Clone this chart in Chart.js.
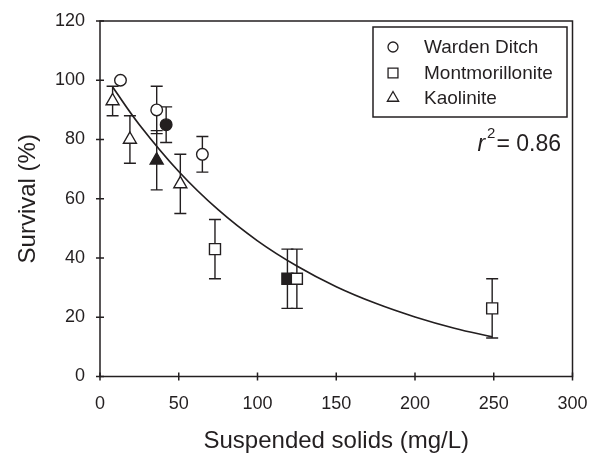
<!DOCTYPE html>
<html>
<head>
<meta charset="utf-8">
<script src="https://cdn.jsdelivr.net/npm/chart.js@4.4.1/dist/chart.umd.min.js"></script>
<style>
  html, body { margin: 0; padding: 0; background: #fff; }
</style>
</head>
<body>
<canvas id="chart" width="597" height="456"></canvas>
<script>
// curva ajustada
const curveX = [8, 25, 50, 75, 100, 125, 150, 175, 200, 225, 249];
const curveY = [97.7, 85, 69.2, 56.3, 45.8, 37.3, 30.3, 24.7, 20.1, 16.3, 13.4];

// Warden Ditch
const wardenX = [13, 36, 65];
const wardenY = [100, 90, 75];
const wardenErr = [0, 8, 6];
const wardenFillX = [42];
const wardenFillY = [85];
const wardenFillErr = [6];

// Montmorillonite
const montX = [73, 125, 249];
const montY = [43, 33, 23];
const montErr = [10, 10, 10];
const montFillX = [119];
const montFillY = [33];
const montFillErr = [10];

// Kaolinite
const kaolX = [8, 19, 51];
const kaolY = [93, 80, 65];
const kaolErr = [5, 8, 10];
const kaolFillX = [36];
const kaolFillY = [73];
const kaolFillErr = [10];

const xTicks = [0, 50, 100, 150, 200, 250, 300];
const yTicks = [0, 20, 40, 60, 80, 100, 120];
const legendLabels = ["Warden Ditch", "Montmorillonite", "Kaolinite"];
const rSquared = "0.86";

const INK = "#231f20";
const FONT = "'Liberation Sans', Arial, Helvetica, sans-serif";

const toPoints = (xs, ys) => xs.map((x, i) => ({ x, y: ys[i] }));

const markerSet = (label, xs, ys, errs, style, radius, filled) => ({
  type: "scatter",
  label,
  data: toPoints(xs, ys),
  errors: errs,
  pointStyle: style,
  pointRadius: radius,
  pointHoverRadius: radius,
  pointBorderWidth: 1.4,
  pointBorderColor: INK,
  pointBackgroundColor: filled ? INK : "#fff",
  showLine: false,
  order: 1,
});

// barras de error, tics cruzados, marco, leyenda y r²
const extras = {
  id: "extras",
  beforeDatasetsDraw(chart) {
    const ctx = chart.ctx;
    const yS = chart.scales.y;
    ctx.save();
    ctx.strokeStyle = INK;
    ctx.lineWidth = 1.4;
    chart.data.datasets.forEach((ds, di) => {
      if (!ds.errors) return;
      const meta = chart.getDatasetMeta(di);
      meta.data.forEach((pt, i) => {
        const e = ds.errors[i];
        if (!e) return;
        const v = ds.data[i].y;
        const top = yS.getPixelForValue(v + e);
        const bot = yS.getPixelForValue(v - e);
        ctx.beginPath();
        ctx.moveTo(pt.x, top); ctx.lineTo(pt.x, bot);
        ctx.moveTo(pt.x - 6, top); ctx.lineTo(pt.x + 6, top);
        ctx.moveTo(pt.x - 6, bot); ctx.lineTo(pt.x + 6, bot);
        ctx.stroke();
      });
    });
    ctx.restore();
  },
  afterDraw(chart) {
    const ctx = chart.ctx;
    const a = chart.chartArea;
    const xS = chart.scales.x;
    const yS = chart.scales.y;
    ctx.save();
    ctx.strokeStyle = INK;
    ctx.lineWidth = 1.5;
    ctx.strokeRect(a.left, a.top, a.right - a.left, a.bottom - a.top);
    ctx.beginPath();
    xTicks.forEach((t) => {
      const px = xS.getPixelForValue(t);
      ctx.moveTo(px, a.bottom - 4); ctx.lineTo(px, a.bottom + 4);
    });
    yTicks.forEach((t) => {
      const py = yS.getPixelForValue(t);
      ctx.moveTo(a.left - 4, py); ctx.lineTo(a.left + 4, py);
    });
    ctx.stroke();

    // leyenda
    const lx = 373, ly = 27, lw = 194, lh = 90;
    ctx.fillStyle = "#fff";
    ctx.fillRect(lx, ly, lw, lh);
    ctx.lineWidth = 1.5;
    ctx.strokeRect(lx, ly, lw, lh);
    const rows = [47, 73, 98];
    const styles = [["circle", 5], ["rect", 7], ["triangle", 6.5]];
    ctx.font = `19px ${FONT}`;
    ctx.textBaseline = "middle";
    ctx.textAlign = "left";
    legendLabels.forEach((lab, i) => {
      ctx.fillStyle = "#fff";
      ctx.strokeStyle = INK;
      ctx.lineWidth = 1.3;
      Chart.helpers.drawPoint(ctx, { pointStyle: styles[i][0], radius: styles[i][1], borderWidth: 1.3, rotation: 0 }, 393, rows[i]);
      ctx.fillStyle = INK;
      ctx.fillText(lab, 424, rows[i] + 1);
    });

    // r²
    ctx.fillStyle = INK;
    ctx.textBaseline = "alphabetic";
    ctx.font = `23px ${FONT}`;
    const rest = "= " + rSquared;
    const wRest = ctx.measureText(rest).width;
    const right = 561, base = 151;
    ctx.fillText(rest, right - wRest, base);
    ctx.font = `15px ${FONT}`;
    const wSup = ctx.measureText("2").width;
    ctx.fillText("2", right - wRest - wSup - 1, base - 13);
    ctx.font = `italic 23px ${FONT}`;
    const wR = ctx.measureText("r").width;
    ctx.fillText("r", right - wRest - wSup - 3 - wR, base);
    ctx.restore();
  },
};

new Chart(document.getElementById("chart"), {
  data: {
    datasets: [
      {
        type: "line",
        label: "ajuste",
        data: toPoints(curveX, curveY),
        borderColor: INK,
        borderWidth: 1.7,
        pointRadius: 0,
        fill: false,
        tension: 0.4,
        order: 2,
      },
      markerSet(legendLabels[0], wardenX, wardenY, wardenErr, "circle", 5.8, false),
      markerSet(legendLabels[0], wardenFillX, wardenFillY, wardenFillErr, "circle", 5.8, true),
      markerSet(legendLabels[1], montX, montY, montErr, "rect", 7.8, false),
      markerSet(legendLabels[1], montFillX, montFillY, montFillErr, "rect", 7.8, true),
      markerSet(legendLabels[2], kaolX, kaolY, kaolErr, "triangle", 7.5, false),
      markerSet(legendLabels[2], kaolFillX, kaolFillY, kaolFillErr, "triangle", 7.5, true),
    ],
  },
  options: {
    responsive: false,
    animation: false,
    layout: { padding: { left: 0, right: 24.5, top: 21, bottom: 0 } },
    plugins: {
      legend: { display: false },
      tooltip: { enabled: false },
    },
    scales: {
      x: {
        type: "linear",
        min: 0,
        max: 300,
        afterBuildTicks: (s) => { s.ticks = xTicks.map((v) => ({ value: v })); },
        afterFit: (s) => { s.height = 79.5; },
        ticks: { color: INK, padding: 3, font: { family: FONT, size: 18 } },
        grid: { display: false, drawTicks: true, tickLength: 14 },
        border: { display: false },
        title: {
          display: true,
          text: "Suspended solids (mg/L)",
          color: INK,
          font: { family: FONT, size: 24 },
          padding: { top: 0, bottom: 0 },
        },
      },
      y: {
        type: "linear",
        min: 0,
        max: 120,
        afterBuildTicks: (s) => { s.ticks = yTicks.map((v) => ({ value: v })); },
        afterFit: (s) => { s.width = 100; },
        ticks: { color: INK, padding: 3, font: { family: FONT, size: 18 } },
        grid: { display: false, drawTicks: true, tickLength: 12 },
        border: { display: false },
        title: {
          display: true,
          text: "Survival (%)",
          color: INK,
          font: { family: FONT, size: 24 },
          padding: { top: 14, bottom: 0 },
        },
      },
    },
  },
  plugins: [extras],
});
</script>
</body>
</html>
